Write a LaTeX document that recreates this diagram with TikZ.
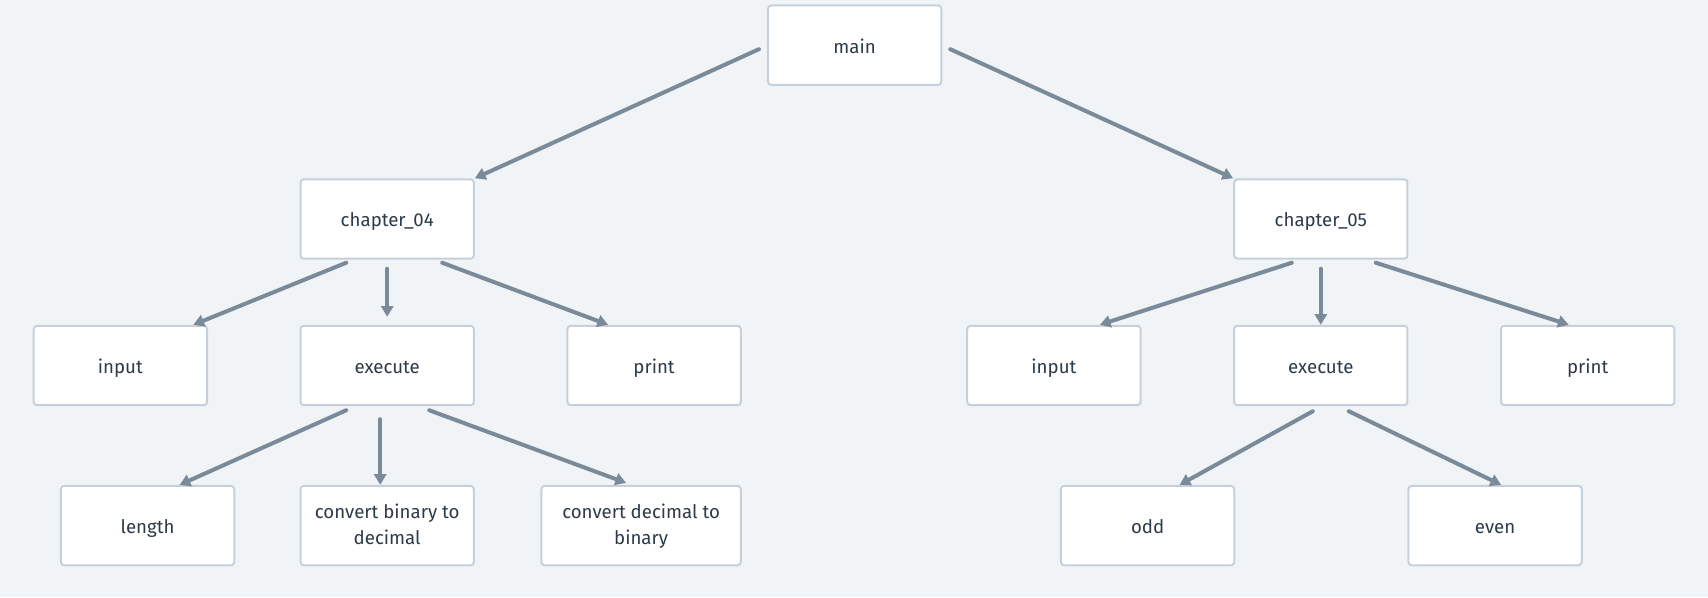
\documentclass[tikz,border=0pt]{standalone}
\usepackage{fontspec}
\setmainfont{Fira Sans}
\usetikzlibrary{arrows.meta,calc}
\definecolor{bgc}{HTML}{F0F4F7}
\definecolor{bordc}{HTML}{C5D0DB}
\definecolor{arrc}{HTML}{7A8A99}
\definecolor{txtc}{HTML}{2D3A4A}
\begin{document}
\begin{tikzpicture}[x=0.75pt,y=-0.75pt,>={Triangle[length=8pt,width=9pt]}, line join=round, line cap=round,
	box/.style={draw=bordc,line width=1.5pt,fill=white,rounded corners=2.5pt,minimum width=130pt,minimum height=59.6pt,inner sep=0pt,text=txtc,font=\fontsize{14}{19.5}\selectfont,align=center,execute at begin node=\rule{0pt}{17.6pt},execute at end node=\rule[-5.85pt]{0pt}{5.85pt}},
	twoline/.style={text depth=1.5pt},
	arr/.style={->,draw=arrc,line width=3pt}]
	\fill[bgc] (0,0) rectangle (1708,597);
	% top
	\node[box] (main) at (854.6,45.2) {main};
	\node[box] (c4) at (387.2,219) {chapter\_04};
	\node[box] (c5) at (1320.8,219) {chapter\_05};
	% chapter_04 branch
	\node[box] (in4) at (120.4,365.5) {input};
	\node[box] (ex4) at (387.2,365.5) {execute};
	\node[box] (pr4) at (654.1,365.5) {print};
	\node[box] (len) at (147.6,525.6) {length};
	\node[box,twoline] (b2d) at (387.2,525.6) {convert binary to\\decimal};
	\node[box,twoline,minimum width=149.5pt] (d2b) at (641.1,525.6) {convert decimal to\\binary};
	% chapter_05 branch
	\node[box] (in5) at (1053.9,365.5) {input};
	\node[box] (ex5) at (1320.8,365.5) {execute};
	\node[box] (pr5) at (1587.7,365.5) {print};
	\node[box] (odd) at (1147.6,525.6) {odd};
	\node[box] (even) at (1495.1,525.6) {even};
	% arrows
	\draw[arr] ($(main.west)+(-8,4)$) -- (c4.north east);
	\draw[arr] ($(main.east)+(8,4)$) -- (c5.north west);
	\draw[arr] ($(c4.south)+(-41,3)$) -- ($(in4.north)+(73,0)$);
	\draw[arr] ($(c4.south)+(0,9)$) -- ($(ex4.north)+(0,-8)$);
	\draw[arr] ($(c4.south)+(55,3)$) -- ($(pr4.north)+(-46,0)$);
	\draw[arr] ($(ex4.south)+(-41,4)$) -- ($(len.north)+(32,0)$);
	\draw[arr] ($(ex4.south)+(-7,13)$) -- ($(b2d.north)+(-7,0)$);
	\draw[arr] ($(ex4.south)+(42,4)$) -- ($(d2b.north)+(-15,-2)$);
	\draw[arr] ($(c5.south)+(-29,3)$) -- ($(in5.north)+(46,0)$);
	\draw[arr] ($(c5.south)+(0,9)$) -- (ex5.north);
	\draw[arr] ($(c5.south)+(55,3)$) -- ($(pr5.north)+(-19,0)$);
	\draw[arr] ($(ex5.south)+(-8,5)$) -- ($(odd.north)+(32,0)$);
	\draw[arr] ($(ex5.south)+(28,5)$) -- ($(even.north)+(6,0)$);
\end{tikzpicture}
\end{document}
